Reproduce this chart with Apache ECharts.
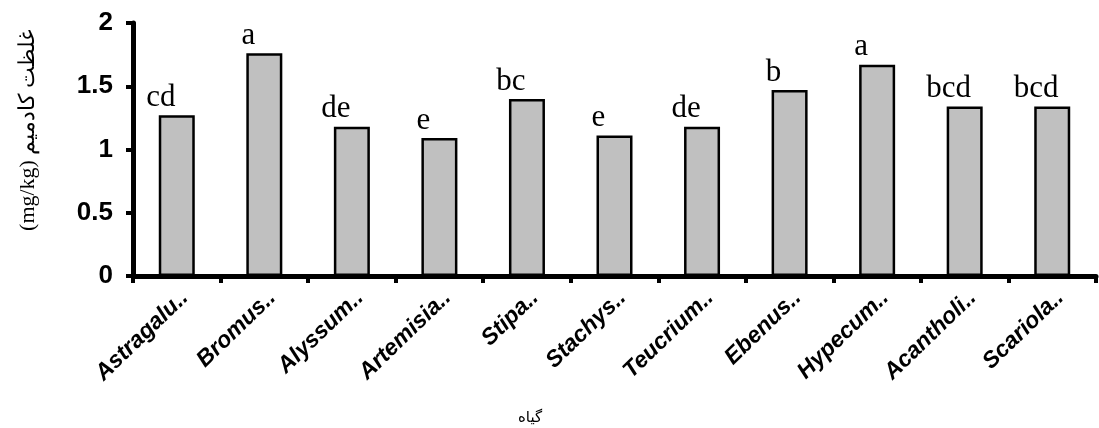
<!DOCTYPE html>
<html>
<head>
<meta charset="utf-8">
<script src="https://cdn.jsdelivr.net/npm/echarts@6/dist/echarts.min.js"></script>
<style>html,body{margin:0;padding:0;background:#fff;}#c{width:1099px;height:428px;}</style>
</head>
<body>
<div id="c"></div>
<script>
var categories = ['Astragalu..','Bromus..','Alyssum..','Artemisia..','Stipa..','Stachys..','Teucrium..','Ebenus..','Hypecum..','Acantholi..','Scariola..'];
var values = [1.27, 1.76, 1.18, 1.09, 1.40, 1.11, 1.18, 1.47, 1.67, 1.34, 1.34];
var letters = ['cd','a','de','e','bc','e','de','b','a','bcd','bcd'];
var yTicks = [0, 0.5, 1, 1.5, 2];
var yName = '(mg/kg) غلظت کادمیم';
var xName = 'گیاه';

var chart = echarts.init(document.getElementById('c'), null, {renderer:'canvas'});
chart.setOption({
  animation: false,
  backgroundColor: '#fff',
  grid: {left: 133, right: 3, top: 23, bottom: 152},
  xAxis: {
    type: 'category',
    data: categories,
    boundaryGap: true,
    axisLine: {lineStyle: {color: '#000', width: 5}},
    axisTick: {show: true, length: 7, lineStyle: {color: '#000', width: 4}},
    axisLabel: {
      interval: 0, rotate: 44, margin: 10, align: 'right', verticalAlign: 'top',
      fontFamily: 'Liberation Sans, Arial', fontWeight: 'bold', fontStyle: 'italic',
      fontSize: 23, color: '#000'
    }
  },
  yAxis: {
    type: 'value', min: 0, max: 2, interval: 0.5,
    splitLine: {show: false},
    axisLine: {show: true, lineStyle: {color: '#000', width: 5}},
    axisTick: {show: true, length: 7, lineStyle: {color: '#000', width: 4}},
    axisLabel: {
      margin: 20, fontFamily: 'Liberation Sans, Arial', fontWeight: 'bold', fontSize: 26, color: '#000',
      formatter: function (v) { return yTicks.indexOf(v) >= 0 ? String(v) : ''; }
    }
  },
  graphic: [{
    type: 'text', x: 28, y: 130, rotation: Math.PI / 2,
    style: {text: yName, align: 'center', verticalAlign: 'middle',
      fontFamily: 'Liberation Serif, Times New Roman, serif', fontSize: 22, fill: '#000'}
  }, {
    type: 'text', x: 530, y: 418,
    style: {text: xName, align: 'center', verticalAlign: 'middle',
      fontFamily: 'DejaVu Sans, Noto Sans', fontSize: 15, fill: '#000'}
  }],
  series: [{
    type: 'bar',
    data: values,
    barWidth: 36,
    itemStyle: {color: '#c0c0c0', borderColor: '#000', borderWidth: 2.5},
    label: {
      show: true, position: 'top', distance: 2, offset: [-16, 0],
      formatter: function (p) { return letters[p.dataIndex]; },
      fontFamily: 'Liberation Serif, Times New Roman, serif', fontSize: 31, color: '#000'
    }
  }]
});
</script>
</body>
</html>
